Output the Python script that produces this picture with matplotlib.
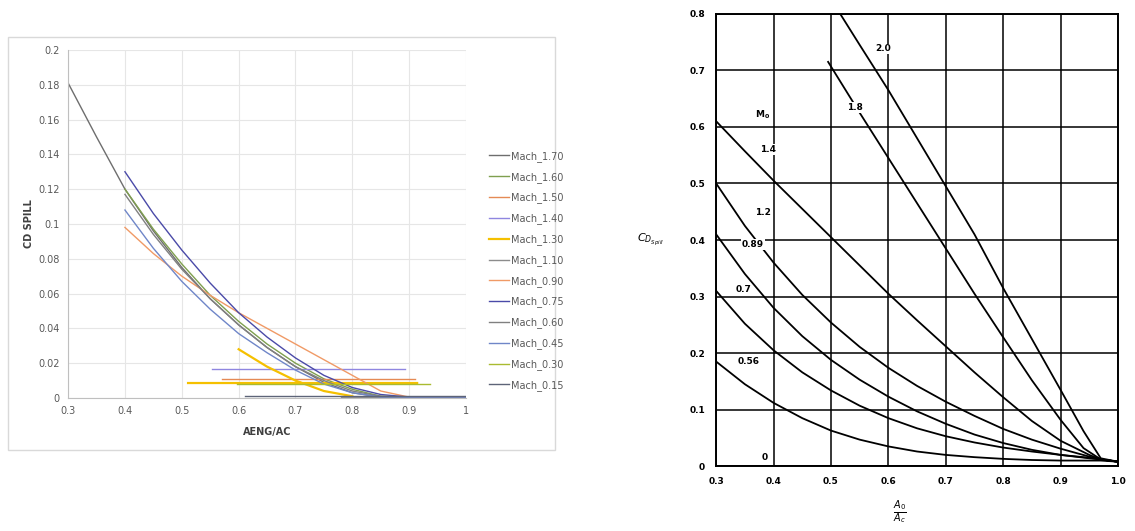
import matplotlib

matplotlib.use("Agg")

import matplotlib.pyplot as plt
import numpy as np
from matplotlib.patches import Rectangle

nan = np.nan

# ---- left chart: Excel export, CD SPILL vs AENG/AC ----
x_curve = [0.40, 0.45, 0.50, 0.55, 0.60, 0.65, 0.70, 0.75, 0.80, 0.85, 0.90, 0.95, 1.00]

mach_170_x = [0.30, 0.35] + x_curve
mach_170_y = [0.181, 0.150, 0.120, 0.096, 0.075, 0.057, 0.042, 0.029, 0.018, 0.009, 0.003, 0.0005, 0.0005, 0.0005, 0.0005]
mach_160_x = x_curve
mach_160_y = [0.120, 0.097, 0.077, 0.059, 0.044, 0.031, 0.020, 0.011, 0.005, 0.001, 0.0005, 0.0005, 0.0005]
mach_150_x = [0.571, 0.910]
mach_150_y = [0.011, 0.011]
mach_140_x = [0.553, 0.893]
mach_140_y = [0.0167, 0.0167]
mach_130_x = [0.60, 0.65, 0.70, 0.75, 0.80, nan, 0.511, 0.914]
mach_130_y = [0.028, 0.018, 0.010, 0.004, 0.001, nan, 0.0086, 0.0086]
mach_110_x = [0.78, 1.00]
mach_110_y = [0.0005, 0.0005]
mach_090_x = x_curve
mach_090_y = [0.098, 0.083, 0.070, 0.059, 0.049, 0.040, 0.031, 0.022, 0.013, 0.004, 0.0005, 0.0005, 0.0005]
mach_075_x = x_curve
mach_075_y = [0.130, 0.106, 0.085, 0.066, 0.049, 0.035, 0.023, 0.013, 0.006, 0.002, 0.0005, 0.0005, 0.0005]
mach_060_x = x_curve
mach_060_y = [0.117, 0.094, 0.074, 0.057, 0.042, 0.029, 0.018, 0.010, 0.004, 0.001, 0.0005, 0.0005, 0.0005]
mach_045_x = x_curve
mach_045_y = [0.108, 0.086, 0.067, 0.051, 0.037, 0.026, 0.016, 0.008, 0.003, 0.0005, 0.0005, 0.0005, 0.0005]
mach_030_x = [0.597, 0.937]
mach_030_y = [0.0078, 0.0078]
mach_015_x = [0.611, 1.00]
mach_015_y = [0.001, 0.001]

left_names = ["Mach_1.70", "Mach_1.60", "Mach_1.50", "Mach_1.40", "Mach_1.30", "Mach_1.10",
              "Mach_0.90", "Mach_0.75", "Mach_0.60", "Mach_0.45", "Mach_0.30", "Mach_0.15"]
left_x = [mach_170_x, mach_160_x, mach_150_x, mach_140_x, mach_130_x, mach_110_x,
          mach_090_x, mach_075_x, mach_060_x, mach_045_x, mach_030_x, mach_015_x]
left_y = [mach_170_y, mach_160_y, mach_150_y, mach_140_y, mach_130_y, mach_110_y,
          mach_090_y, mach_075_y, mach_060_y, mach_045_y, mach_030_y, mach_015_y]
left_colors = ["#6e6e6e", "#7f9f4f", "#e58a55", "#8f86e0", "#f5c000", "#8c8c8c",
               "#f09a66", "#4a4aa8", "#808080", "#6f86c8", "#a9bb30", "#5d6478"]

# ---- right chart: scanned reference, CD spill vs A0/Ac ----
x_fine = [0.30, 0.35, 0.40, 0.45, 0.50, 0.55, 0.60, 0.65, 0.70, 0.75, 0.80, 0.85, 0.90, 0.95, 0.97, 1.00]
m056_x = x_fine
m056_y = [0.185, 0.145, 0.112, 0.085, 0.063, 0.047, 0.035, 0.026, 0.020, 0.016, 0.013, 0.011, 0.010, 0.010, 0.010, 0.008]
m07_x = x_fine
m07_y = [0.310, 0.252, 0.205, 0.166, 0.134, 0.107, 0.085, 0.067, 0.053, 0.042, 0.033, 0.026, 0.020, 0.015, 0.012, 0.008]
m089_x = x_fine
m089_y = [0.410, 0.340, 0.280, 0.230, 0.188, 0.153, 0.123, 0.097, 0.075, 0.056, 0.041, 0.029, 0.020, 0.014, 0.012, 0.008]
m12_x = x_fine
m12_y = [0.500, 0.425, 0.360, 0.303, 0.254, 0.211, 0.174, 0.142, 0.114, 0.089, 0.066, 0.047, 0.031, 0.017, 0.012, 0.008]
m14_x = x_fine
m14_y = [0.610, 0.557, 0.505, 0.455, 0.405, 0.355, 0.305, 0.258, 0.212, 0.166, 0.122, 0.080, 0.045, 0.020, 0.012, 0.008]
m18_x = [0.495, 0.55, 0.60, 0.65, 0.70, 0.75, 0.80, 0.85, 0.90, 0.94, 0.97, 1.00]
m18_y = [0.715, 0.625, 0.545, 0.465, 0.385, 0.305, 0.228, 0.152, 0.082, 0.032, 0.012, 0.008]
m20_x = [0.516, 0.55, 0.60, 0.65, 0.70, 0.75, 0.80, 0.85, 0.90, 0.94, 0.97, 1.00]
m20_y = [0.800, 0.745, 0.665, 0.580, 0.495, 0.410, 0.315, 0.225, 0.135, 0.062, 0.014, 0.008]

right_x = [m056_x, m07_x, m089_x, m12_x, m14_x, m18_x, m20_x]
right_y = [m056_y, m07_y, m089_y, m12_y, m14_y, m18_y, m20_y]
mach_labels = ["0", "0.56", "0.7", "0.89", "1.2", "1.4", "1.8", "2.0"]
mach_label_x = [0.38, 0.337, 0.333, 0.345, 0.368, 0.377, 0.528, 0.577]
mach_label_y = [0.016, 0.185, 0.313, 0.392, 0.449, 0.560, 0.634, 0.738]

fig = plt.figure(figsize=(11.35, 5.31), dpi=100)

# Excel chart-area border
fig.patches.append(Rectangle((0.007, 0.1525), 0.482, 0.778, transform=fig.transFigure,
                             facecolor="none", edgecolor="#d9d9d9", linewidth=1.0, zorder=-1))

ax1 = fig.add_axes([0.060, 0.2505, 0.3506, 0.6555])
for xs, ys, name, color in zip(left_x, left_y, left_names, left_colors):
    lw = 1.6 if name == "Mach_1.30" else 1.0
    ax1.plot(xs, ys, color=color, linewidth=lw, label=name)
ax1.set_xlim(0.3, 1.0)
ax1.set_ylim(0, 0.2)
ax1.set_xticks(np.arange(0.3, 1.01, 0.1))
ax1.set_xticklabels(["0.3", "0.4", "0.5", "0.6", "0.7", "0.8", "0.9", "1"])
ax1.set_yticks(np.arange(0, 0.201, 0.02))
ax1.set_yticklabels(["0", "0.02", "0.04", "0.06", "0.08", "0.1", "0.12", "0.14", "0.16", "0.18", "0.2"])
ax1.tick_params(length=0, labelsize=7, labelcolor="#595959", pad=6)
ax1.grid(True, color="#e6e6e6", linewidth=0.8)
ax1.set_axisbelow(True)
for side in ["top", "right"]:
    ax1.spines[side].set_visible(False)
for side in ["left", "bottom"]:
    ax1.spines[side].set_color("#bfbfbf")
ax1.set_xlabel("AENG/AC", fontsize=7, fontweight="bold", color="#404040", labelpad=8)
ax1.set_ylabel("CD SPILL", fontsize=7, fontweight="bold", color="#404040", labelpad=3)
leg = ax1.legend(loc="upper left", bbox_to_anchor=(0.431, 0.716), bbox_transform=fig.transFigure,
                 frameon=False, fontsize=7, labelspacing=1.02, handlelength=2.0,
                 handletextpad=0.2, borderpad=0, borderaxespad=0)
for text in leg.get_texts():
    text.set_color("#595959")

ax2 = fig.add_axes([0.631, 0.122, 0.354, 0.852])
ax2.plot([0.3, 1.0], [0.0, 0.0], color="black", linewidth=1.4)
for xs, ys in zip(right_x, right_y):
    ax2.plot(xs, ys, color="black", linewidth=1.3)
ax2.set_xlim(0.3, 1.0)
ax2.set_ylim(0, 0.8)
ax2.set_xticks(np.arange(0.3, 1.01, 0.1))
ax2.set_xticklabels(["0.3", "0.4", "0.5", "0.6", "0.7", "0.8", "0.9", "1.0"])
ax2.set_yticks(np.arange(0, 0.81, 0.1))
ax2.set_yticklabels(["0", "0.1", "0.2", "0.3", "0.4", "0.5", "0.6", "0.7", "0.8"])
ax2.tick_params(length=0, labelsize=6.5, pad=8)
for label in ax2.get_xticklabels() + ax2.get_yticklabels():
    label.set_fontweight("bold")
ax2.grid(True, color="black", linewidth=1.1)
for side in ax2.spines:
    ax2.spines[side].set_linewidth(1.4)
for lab, lx, ly in zip(mach_labels, mach_label_x, mach_label_y):
    ax2.text(lx, ly, lab, fontsize=6.5, fontweight="bold", ha="left", va="center",
             bbox=dict(facecolor="white", edgecolor="none", pad=0.5))
ax2.text(0.368, 0.622, r"$\mathbf{M_0}$", fontsize=6.5, ha="left", va="center")

fig.text(0.573, 0.548, r"$C_{D_{Spill}}$", fontsize=8, ha="center", va="center")
fig.text(0.793, 0.036, r"$\frac{A_0}{A_c}$", fontsize=10, ha="center", va="center")

fig.savefig("out.png", dpi=100, facecolor="white")
